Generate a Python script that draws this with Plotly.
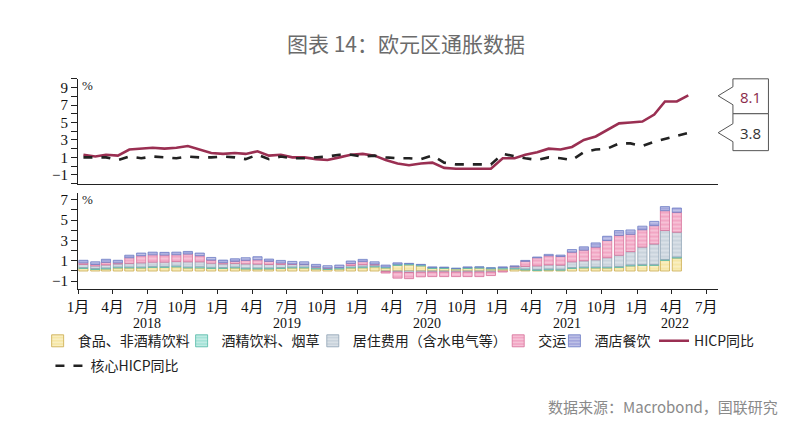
import plotly.graph_objects as go
import pandas as pd

W, H = 800, 433

# ---------------- data ----------------
line_months = (pd.date_range("2018-01-01", periods=53, freq="MS") + pd.Timedelta(days=14))
bar_months = line_months[:52]

hicp = [1.3, 1.1, 1.3, 1.2, 1.9, 2.0, 2.1, 2.0, 2.1, 2.3, 1.9, 1.5,
        1.4, 1.5, 1.4, 1.7, 1.2, 1.3, 1.0, 1.0, 0.8, 0.7, 1.0, 1.3,
        1.4, 1.2, 0.7, 0.3, 0.1, 0.3, 0.4, -0.2, -0.3, -0.3, -0.3, -0.3,
        0.9, 0.9, 1.3, 1.6, 2.0, 1.9, 2.2, 3.0, 3.4, 4.1, 4.9, 5.0,
        5.1, 5.9, 7.4, 7.4, 8.1]
core = [1.0, 1.0, 1.0, 0.7, 1.1, 0.9, 1.1, 1.0, 0.9, 1.1, 1.0, 1.0,
        1.1, 1.0, 0.8, 1.3, 0.8, 1.1, 0.9, 0.9, 1.0, 1.1, 1.3, 1.3,
        1.1, 1.2, 1.0, 0.9, 0.9, 0.8, 1.2, 0.4, 0.2, 0.2, 0.2, 0.2,
        1.4, 1.1, 0.9, 0.7, 1.0, 0.9, 0.7, 1.6, 1.9, 2.0, 2.6, 2.6,
        2.3, 2.8, 3.1, 3.5, 3.8]

food = [0.25, 0.15, 0.20, 0.30, 0.30, 0.30, 0.35, 0.35, 0.40, 0.30, 0.30, 0.25,
        0.25, 0.30, 0.20, 0.20, 0.20, 0.25, 0.30, 0.30, 0.20, 0.15, 0.20, 0.30,
        0.32, 0.40, 0.30, 0.55, 0.60, 0.50, 0.25, 0.25, 0.20, 0.25, 0.28, 0.20,
        0.20, 0.20, 0.10, 0.05, 0.10, 0.08, 0.25, 0.30, 0.30, 0.30, 0.35, 0.50,
        0.55, 0.55, 1.04, 1.27]
alcohol = [0.10, 0.10, 0.10, 0.10, 0.10, 0.10, 0.10, 0.10, 0.10, 0.10, 0.12, 0.12,
           0.10, 0.10, 0.10, 0.10, 0.10, 0.10, 0.10, 0.10, 0.10, 0.10, 0.10, 0.10,
           0.10, 0.10, 0.10, 0.12, 0.10, 0.10, 0.10, 0.10, 0.06, 0.10, 0.10, 0.10,
           0.10, 0.10, 0.10, 0.10, 0.10, 0.10, 0.10, 0.10, 0.10, 0.10, 0.10, 0.10,
           0.10, 0.10, 0.10, 0.10]
housing = [0.30, 0.25, 0.30, 0.30, 0.35, 0.40, 0.42, 0.42, 0.42, 0.50, 0.48, 0.40,
           0.35, 0.35, 0.40, 0.38, 0.35, 0.30, 0.25, 0.22, 0.10, 0.05, 0.05, 0.15,
           0.20, 0.10, -0.05, -0.10, -0.15, -0.12, -0.10, -0.10, -0.10, -0.10, -0.10, -0.10,
           0.05, 0.10, 0.25, 0.35, 0.40, 0.40, 0.55, 0.60, 0.70, 0.90, 1.10, 1.30,
           1.70, 2.00, 2.83, 2.44]
transport = [0.15, 0.15, 0.25, 0.10, 0.55, 0.70, 0.72, 0.70, 0.68, 0.77, 0.60, 0.30,
             0.12, 0.20, 0.35, 0.42, 0.30, 0.14, 0.04, 0.03, 0.02, 0.00, 0.00, 0.20,
             0.30, 0.08, -0.15, -0.60, -0.60, -0.45, -0.45, -0.45, -0.45, -0.45, -0.45, -0.35,
             -0.10, 0.05, 0.50, 0.80, 0.90, 0.85, 0.95, 1.05, 1.25, 1.70, 1.95, 1.70,
             1.70, 1.80, 1.95, 1.95]
restaurants = [0.25, 0.25, 0.30, 0.25, 0.25, 0.26, 0.26, 0.26, 0.25, 0.25, 0.26, 0.26,
               0.25, 0.25, 0.25, 0.30, 0.22, 0.25, 0.25, 0.25, 0.23, 0.22, 0.23, 0.23,
               0.22, 0.22, 0.18, 0.13, 0.05, 0.05, 0.05, 0.02, 0.00, 0.05, 0.02, 0.00,
               0.05, 0.05, 0.09, 0.07, 0.13, 0.13, 0.25, 0.32, 0.41, 0.41, 0.47, 0.43,
               0.35, 0.42, 0.40, 0.42]

x_tick_vals = pd.date_range("2018-01-01", "2022-07-01", freq="3MS")
x_tick_text = [f"{d.month}月" for d in x_tick_vals]
years = ["2018", "2019", "2020", "2021", "2022"]
year_pos = ["2018-07-01", "2019-07-01", "2020-07-01", "2021-07-01", "2022-04-10"]

bar_series = [
    ("食品、非酒精饮料", food, "#f6e7a6", "#c9a94a"),
    ("酒精饮料、烟草", alcohol, "#a6e3d8", "#52b8a6"),
    ("居住费用（含水电气等）", housing, "#c9d3dc", "#8ea2b4"),
    ("交运", transport, "#f2a6c4", "#d66f98"),
    ("酒店餐饮", restaurants, "#a3a6dc", "#6c7cc4"),
]

# ---------------- helpers ----------------
def px(x):
    return x / W

def py(y):
    return 1 - y / H

SERIF = "Liberation Serif, Noto Sans CJK SC, serif"
CJK = "Noto Sans CJK SC, sans-serif"

fig = go.Figure()

legend_names = ["legend", "legend2", "legend3", "legend4", "legend5", "legend6", "legend7"]

for i, (name, vals, fill, edge) in enumerate(bar_series):
    fig.add_trace(go.Bar(
        x=bar_months, y=vals, name=name, xaxis="x2", yaxis="y2",
        marker=dict(color=fill, line=dict(color=edge, width=0.8),
                    pattern=dict(shape="-", fgcolor="white", size=4, solidity=0.3)),
        width=24 * 86400000, legend=legend_names[i], hoverinfo="skip",
    ))

fig.add_trace(go.Scatter(
    x=line_months, y=hicp, name="HICP同比", mode="lines",
    line=dict(color="#9a2f52", width=2.6), xaxis="x", yaxis="y", legend=legend_names[5],
))
fig.add_trace(go.Scatter(
    x=line_months, y=core, name="核心HICP同比", mode="lines",
    line=dict(color="#222222", width=2.6, dash="dash"), xaxis="x", yaxis="y",
    legend=legend_names[6],
))

x_range = ["2018-01-01", "2022-08-01"]
dom_x = [px(68), px(717)]

axis_common = dict(showgrid=False, zeroline=False, showline=True, linecolor="#222",
                   linewidth=1)

fig.update_layout(
    width=W, height=H, margin=dict(l=0, r=0, t=0, b=0),
    paper_bgcolor="white", plot_bgcolor="white", barmode="relative",
    showlegend=True,
    xaxis=dict(domain=dom_x, range=x_range, type="date", anchor="y",
               showticklabels=False, ticks="", **axis_common),
    yaxis=dict(domain=[py(183), py(78)], range=[-2, 10], anchor="x",
               tickvals=[-1, 1, 3, 5, 7, 9], ticks="outside", ticklen=6, tickcolor="#222",
               minor=dict(dtick=1, ticks="outside", ticklen=6, tickcolor="#222", tick0=0),
               tickfont=dict(family=SERIF, size=15, color="#111"), **axis_common),
    xaxis2=dict(domain=dom_x, range=x_range, type="date", anchor="y2",
                tickvals=x_tick_vals, ticktext=x_tick_text, ticks="outside", ticklen=4,
                tickcolor="#222", tickfont=dict(family=SERIF, size=15, color="#111"),
                **axis_common),
    yaxis2=dict(domain=[py(289), py(192)], range=[-1.8, 7.7], anchor="x2",
                tickvals=[-1, 1, 3, 5, 7], ticks="outside", ticklen=6, tickcolor="#222",
                minor=dict(dtick=1, ticks="outside", ticklen=6, tickcolor="#222", tick0=0),
                tickfont=dict(family=SERIF, size=15, color="#111"), **axis_common),
)

# legends, one per entry
leg_pos = [(27, 341), (173, 341), (306, 341), (494, 341), (551, 341), (652, 341), (40, 366)]
for ln, (lx, ly) in zip(legend_names, leg_pos):
    fig.update_layout({ln: dict(x=px(lx), y=py(ly), xanchor="left", yanchor="middle",
                                orientation="h", bgcolor="rgba(0,0,0,0)",
                                font=dict(family=CJK, size=14, color="#222"),
                                itemwidth=30, tracegroupgap=0)})

def note(text, x, y, font, xref="paper", xanchor="center"):
    fig.add_annotation(text=text, x=x, y=y, xref=xref, yref="paper", showarrow=False,
                       xanchor=xanchor, yanchor="middle", font=font)

# title & source
note("图表 14：欧元区通胀数据", 0.5, py(42), dict(family=CJK, size=21, color="#6b6b6b"))
note("数据来源：Macrobond，国联研究", px(780), py(406),
     dict(family=CJK, size=15, color="#8a8a8a"), xanchor="right")

# % labels
for yy in (85, 199):
    note("%", px(78), py(yy), dict(family=SERIF, size=13, color="#222"))

# year labels
for yr, pos in zip(years, year_pos):
    note(yr, pos, py(323), dict(family=SERIF, size=14, color="#111"), xref="x2")

# callout boxes for the latest values
def callout(tip_y, top, bottom):
    xs = [717, 732, 732, 768, 768, 732, 732]
    ys = [tip_y, tip_y - 9, top, top, bottom, bottom, tip_y + 9]
    d = "M " + " L ".join(f"{px(a):.5f},{py(b):.5f}" for a, b in zip(xs, ys)) + " Z"
    fig.add_shape(type="path", path=d, xref="paper", yref="paper",
                  line=dict(color="#555", width=1), fillcolor="white")

callout(95, 78, 113)
callout(132, 113, 150)
note(f"{hicp[-1]:.1f}", px(750), py(96), dict(family="Open Sans, sans-serif", size=15, color="#8b2a4a"))
note(f"{core[-1]:.1f}", px(750), py(132), dict(family="Open Sans, sans-serif", size=15, color="#333"))

fig.write_html("out.html")
